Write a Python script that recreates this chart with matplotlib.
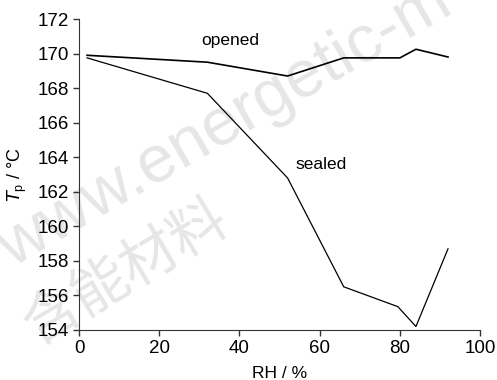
import matplotlib
matplotlib.use("Agg")
import matplotlib.pyplot as plt

plt.rcParams['font.family'] = ['Liberation Sans', 'Noto Sans CJK SC', 'DejaVu Sans']

rh_opened = [2, 32, 52, 66, 80, 84, 92]
tp_opened = [169.9, 169.5, 168.7, 169.75, 169.75, 170.25, 169.8]

rh_sealed = [2, 32, 52, 66, 79.5, 84, 92]
tp_sealed = [169.75, 167.7, 162.8, 156.5, 155.35, 154.2, 158.7]

fig = plt.figure(figsize=(4.97, 3.8), dpi=100)
ax = fig.add_axes([0.159, 0.1316, 0.807, 0.8184])
ax.set_zorder(1)

# watermark (faint, behind the axes)
fig.text(0.025, 0.295, "www.energetic-m", fontsize=48, color="#e6e6e6",
         rotation=30, rotation_mode="anchor", ha="left", va="baseline",
         zorder=0, fontweight="light")
fig.text(0.075, 0.09, "含能材料", fontsize=41, color="#e6e6e6",
         rotation=31, rotation_mode="anchor", ha="left", va="baseline",
         zorder=0, fontweight="light")

ax.plot(rh_opened, tp_opened, color="black", lw=1.2)
ax.plot(rh_sealed, tp_sealed, color="black", lw=0.9)

ax.text(30.5, 170.75, "opened", fontsize=12.5, va="center")
ax.text(54, 163.6, "sealed", fontsize=12.5, va="center")

ax.set_xlim(0, 100)
ax.set_ylim(154, 172)
ax.set_xticks(range(0, 101, 20))
ax.set_yticks(range(154, 173, 2))
ax.spines['top'].set_visible(False)
ax.spines['right'].set_visible(False)
ax.spines['left'].set_color("#333333")
ax.spines['bottom'].set_color("#333333")
ax.tick_params(labelsize=13.5, length=4, color="#333333", width=1)
ax.patch.set_alpha(0)

ax.set_xlabel("RH / %", fontsize=12.5, labelpad=6)
ax.set_ylabel(r"$T_\mathregular{p}$ / °C", fontsize=13, labelpad=6)

fig.savefig("out.png", dpi=100)
